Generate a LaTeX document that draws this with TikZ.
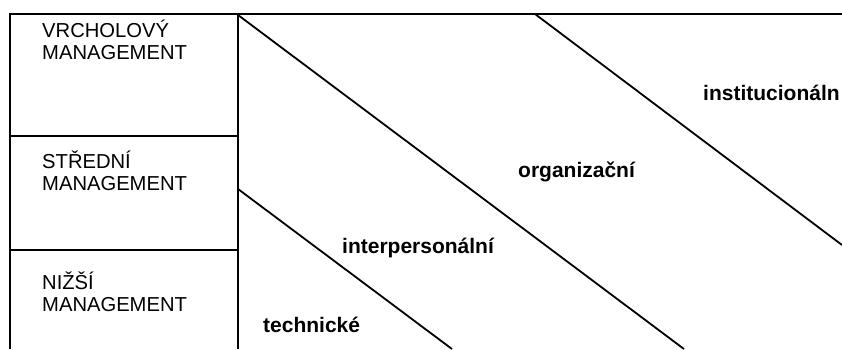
\documentclass[tikz,border=0pt]{standalone}
\usepackage{fontspec}
\setmainfont{Liberation Sans}
\begin{document}
\begin{tikzpicture}[x=1pt,y=-1pt,
  frame/.style={line width=2.4pt},
  band/.style={line width=1.8pt},
  level/.style={anchor=base west,inner sep=0pt,align=left,font=\fontsize{20.2}{22}\selectfont},
  skill/.style={anchor=base west,inner sep=0pt,font=\fontsize{21}{24}\selectfont\bfseries}]
\useasboundingbox (0,0) rectangle (842,349);
\begin{scope}
\clip (0,0) rectangle (842,349);
% outer frame and level column
\draw[frame] (10,349) -- (10,14) -- (842,14);
\draw[frame] (238,14) -- (238,349);
\draw[frame] (10,136) -- (238,136);
\draw[frame] (10,250) -- (238,250);
% diagonal boundaries between skill bands
\draw[band] (238,15) -- (684,349);
\draw[band] (535,14) -- (842,245);
\draw[band] (238,189) -- (452,349);
% management levels
\node[level] (top) at (42,59) {VRCHOLOVÝ\\MANAGEMENT};
\node[level] (mid) at (42,190) {STŘEDNÍ\\MANAGEMENT};
\node[level] (low) at (42,311) {NIŽŠÍ\\MANAGEMENT};
% skill bands
\node[skill] (tech) at (263,332) {technické};
\node[skill] (inter) at (342,253) {interpersonální};
\node[skill] (org) at (518,177) {organizační};
\node[skill] (inst) at (703,100) {institucionáln};
\end{scope}
\end{tikzpicture}
\end{document}
